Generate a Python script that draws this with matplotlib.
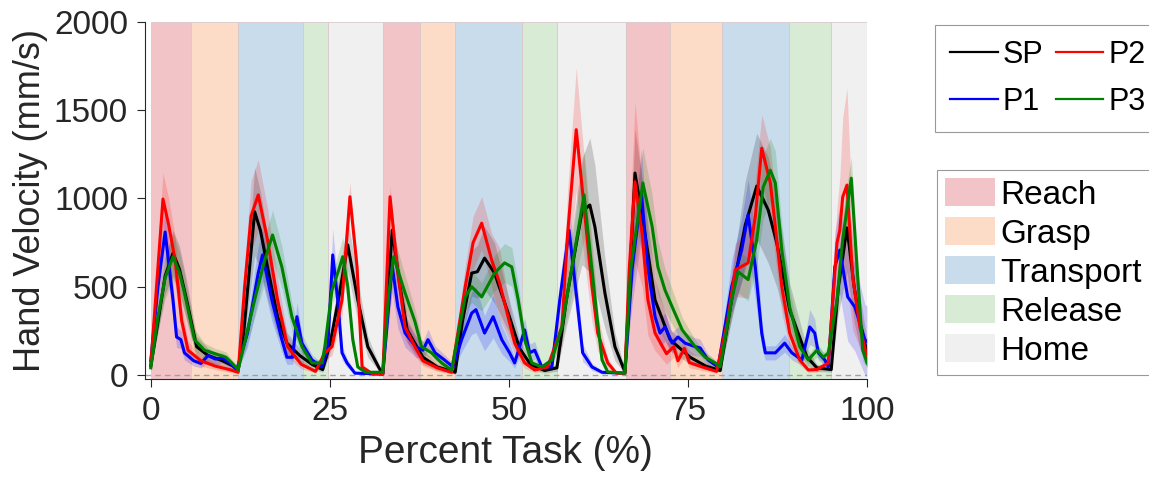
import matplotlib.pyplot as plt
from matplotlib.patches import Patch
from matplotlib.lines import Line2D
import numpy as np

plt.rcParams['font.family'] = ['Liberation Sans', 'DejaVu Sans']

# Task phases (percent task boundaries)
phase_names = ['Reach', 'Grasp', 'Transport', 'Release', 'Home']
phase_colors = ['#f3c4c7', '#fcdcc6', '#c8dcec', '#d8ecd5', '#f0f0f0']
phase_edges = [0, 5.6, 12.2, 21.2, 24.7, 32.4, 37.6, 42.5, 51.8, 56.7,
               66.3, 72.5, 79.7, 89.1, 95.0, 100]

# (percent task, mean velocity, std)
sp = [(0, 50, 20), (1, 300, 60), (2, 560, 100), (3.1, 690, 130), (4, 600, 130), (5, 425, 110),
      (6.4, 160, 60), (8, 110, 40), (10, 80, 30), (11.5, 50, 20), (12.2, 25, 10),
      (13, 250, 60), (14.5, 925, 250), (15.3, 820, 220), (16.3, 610, 180), (17.7, 330, 100),
      (19, 180, 60), (20.8, 110, 40), (22.5, 60, 25), (24, 30, 15),
      (25, 170, 50), (26.3, 450, 120), (27.5, 737, 150), (28.9, 425, 120), (30.3, 160, 60),
      (32, 30, 15), (32.4, 10, 5),
      (33.7, 820, 100), (34.8, 500, 90), (35.8, 255, 70), (38, 100, 40), (40, 45, 20), (42.5, 15, 10),
      (43.5, 300, 80), (44.8, 577, 130), (45.6, 585, 150), (46.6, 662, 180), (48, 577, 170),
      (49.9, 350, 100), (51.5, 150, 50), (53, 60, 25), (55, 25, 15), (56.7, 40, 20),
      (58, 420, 150), (60.2, 925, 300), (61.3, 963, 380), (62, 840, 350), (63.4, 465, 200),
      (64.8, 160, 80), (66.2, 17, 10),
      (67.6, 1144, 250), (69, 800, 200), (70.4, 425, 120), (72.5, 200, 60), (75.3, 100, 40),
      (77.5, 50, 20), (79.5, 25, 10),
      (81.6, 555, 150), (83, 850, 250), (84.6, 1070, 300), (86.2, 935, 300), (87.4, 748, 250),
      (89.2, 368, 150), (91.6, 102, 50), (93, 40, 20), (95, 30, 15),
      (96, 500, 150), (97.2, 833, 250), (98.2, 500, 200), (99, 300, 150), (100, 125, 80)]

p1 = [(0, 80, 30), (1, 500, 100), (2, 810, 150), (3.1, 425, 100), (3.6, 215, 60), (4.2, 200, 50),
      (4.7, 125, 40), (6, 80, 30), (7, 65, 25), (8, 110, 40), (9, 90, 30), (10, 95, 30),
      (11, 70, 25), (12, 30, 15),
      (13.5, 237, 80), (15, 577, 150), (15.6, 680, 150), (16.9, 425, 120), (18.3, 200, 70),
      (19, 100, 40), (19.8, 100, 40), (20.4, 330, 80), (21.1, 180, 50), (22.5, 85, 30),
      (23.9, 45, 20), (24.7, 150, 50),
      (25.4, 680, 150), (26.1, 425, 100), (26.7, 125, 40), (27.4, 68, 25), (28.5, 10, 5), (32.4, 5, 5),
      (33.7, 620, 150), (34.5, 385, 120), (35.5, 237, 80), (37, 160, 60), (38, 140, 50),
      (38.7, 200, 60), (39.7, 125, 40), (41, 85, 30), (42.2, 45, 20),
      (43.4, 200, 70), (44.8, 350, 120), (45.4, 370, 130), (46.6, 237, 100), (47.8, 330, 120),
      (49, 200, 80), (50.1, 125, 50), (50.8, 68, 30), (52.2, 255, 70), (52.9, 125, 50),
      (53.6, 140, 50), (54.6, 45, 20), (56, 45, 20),
      (57.1, 425, 100), (58.4, 820, 150), (59.5, 425, 120), (60.3, 125, 50), (61.6, 45, 20),
      (63, 15, 10), (66.2, 10, 5),
      (67.2, 600, 200), (68.5, 1030, 250), (69.4, 612, 180), (70.4, 330, 100), (71.1, 237, 80),
      (71.8, 272, 80), (72.8, 180, 60), (73.6, 215, 60), (74.6, 180, 60), (76, 160, 50),
      (76.7, 153, 50), (77.8, 85, 30), (79.2, 45, 20),
      (81.1, 500, 150), (82.5, 708, 180), (83.4, 907, 200), (84.4, 612, 180), (85.3, 237, 80),
      (85.8, 125, 40), (87.2, 125, 40), (88.5, 180, 50), (89.5, 125, 40), (90.9, 85, 30),
      (92, 272, 100), (92.7, 237, 80), (93.2, 125, 40), (94.1, 85, 30), (94.6, 45, 20),
      (95.5, 612, 200), (96.2, 708, 250), (97.3, 442, 250), (98.3, 385, 250), (99.7, 200, 200),
      (100, 190, 200)]

p2 = [(0, 60, 20), (0.8, 500, 100), (1.7, 997, 150), (2.5, 850, 150), (3.4, 650, 130), (4.3, 310, 80),
      (5.2, 140, 50), (7, 80, 30), (9, 50, 20), (11, 30, 15), (12.2, 15, 10),
      (13.1, 500, 120), (14, 900, 200), (15, 1020, 200), (16.3, 765, 180), (17.7, 425, 120),
      (19.1, 160, 60), (21, 60, 25), (23, 20, 10), (24.3, 125, 40), (25.3, 160, 50),
      (26.7, 425, 100), (27.8, 1010, 80), (28.8, 612, 70), (29.5, 45, 20), (31, 5, 5), (32.4, 5, 5),
      (33.4, 1010, 60), (34.4, 612, 80), (35.5, 272, 70), (37, 150, 50), (38, 80, 30), (40, 40, 20),
      (42, 15, 10),
      (43.9, 500, 120), (45, 750, 150), (46.2, 860, 150), (47.6, 650, 150), (48.7, 520, 200),
      (49.4, 408, 150), (50.8, 180, 60), (52.2, 68, 30), (53.6, 28, 15), (55.4, 45, 20),
      (57.4, 272, 100), (58.2, 800, 250), (59.4, 1390, 350), (60.3, 1030, 300), (61.6, 500, 200),
      (62.4, 237, 100), (63.8, 68, 30), (65, 10, 5), (66.2, 10, 5),
      (66.8, 600, 200), (67.6, 1095, 450), (68.6, 800, 300), (69.4, 425, 200), (70.4, 237, 100),
      (72, 120, 60), (73, 160, 60), (73.6, 80, 40), (74.5, 150, 50), (75.2, 70, 30), (77, 45, 20),
      (79, 20, 10),
      (80.5, 300, 100), (81.6, 595, 150), (83.4, 635, 200), (84.4, 897, 200), (85.3, 1285, 190),
      (86.5, 1088, 200), (87.2, 840, 180), (88.1, 500, 150), (89.2, 237, 80), (90.6, 85, 30),
      (91.8, 28, 15), (93, 30, 15), (94.6, 68, 30),
      (95.8, 748, 200), (96.2, 820, 300), (96.6, 1008, 450), (97.2, 1076, 550), (98, 555, 300),
      (99, 272, 120), (100, 100, 50)]

p3 = [(0, 40, 20), (1, 330, 80), (2, 550, 120), (3.1, 670, 130), (4, 580, 120), (4.7, 465, 110),
      (6.1, 200, 60), (7.5, 140, 40), (9, 120, 30), (10.5, 100, 30), (11.5, 60, 20), (12.2, 30, 10),
      (13.2, 200, 60), (14.5, 425, 100), (15.9, 650, 130), (17, 793, 140), (18.3, 612, 120),
      (19.7, 330, 80), (21.1, 160, 40), (22.5, 68, 20), (23.9, 68, 20),
      (24.3, 160, 40), (25.3, 480, 80), (26.1, 577, 100), (26.8, 670, 110), (27.5, 500, 90),
      (28.2, 200, 50), (28.9, 45, 15), (30, 15, 5), (32.4, 15, 5),
      (33.2, 450, 100), (33.9, 670, 120), (35.5, 465, 100), (36.9, 300, 70), (37.8, 160, 40),
      (39.2, 125, 30), (40.6, 68, 20), (42, 28, 10),
      (43.9, 442, 80), (44.8, 500, 90), (46.2, 442, 80), (48, 577, 100), (49.4, 635, 110),
      (50.4, 612, 110), (51.3, 425, 90), (52.2, 200, 50), (53.2, 68, 20), (54.6, 45, 15), (56, 85, 20),
      (57.4, 272, 80), (58.8, 612, 150), (60.5, 1020, 250), (61.3, 708, 200), (62.3, 330, 100),
      (63, 85, 30), (63.8, 17, 10), (66.2, 10, 5),
      (67, 600, 150), (68.7, 1088, 200), (70, 840, 180), (70.8, 612, 150), (71.8, 480, 120),
      (72.8, 385, 100), (74.2, 255, 70), (76, 160, 40), (77.4, 100, 30), (78.8, 68, 20), (79.5, 45, 15),
      (81.1, 425, 100), (82, 585, 120), (83.4, 540, 120), (84.6, 765, 150), (85.5, 1065, 180),
      (86.5, 1160, 180), (87.2, 1088, 180), (88.1, 708, 150), (89.2, 385, 100), (90.6, 160, 50),
      (91.8, 85, 25), (93, 140, 40), (93.9, 100, 30), (94.6, 125, 30),
      (95.8, 425, 100), (96.6, 765, 150), (97.8, 1115, 120), (98.6, 612, 120), (99.4, 140, 60),
      (100, 68, 30)]

series = [('SP', sp, 'black'), ('P1', p1, '#0000ff'), ('P2', p2, '#ff0000'), ('P3', p3, '#008000')]

fig = plt.figure(figsize=(11.49, 4.84), dpi=100)
ax = fig.add_axes([0.126, 0.217, 0.6286, 0.7375])

# Phase background
for k in range(len(phase_edges) - 1):
    ax.axvspan(phase_edges[k], phase_edges[k + 1], color=phase_colors[k % 5], lw=0.6,
               ec='#d9c9c9', zorder=0)

ax.axhline(0, color='#a0a0a0', ls=(0, (4, 3)), lw=1, zorder=1)

for name, data, col in series:
    x, m, s = np.array(data).T
    ax.fill_between(x, m - s, m + s, color=col, alpha=0.17, lw=0, zorder=2)
for name, data, col in series:
    x, m, s = np.array(data).T
    ax.plot(x, m, color=col, lw=2.2, zorder=3)

ax.set_xlim(-0.84, 100)
ax.set_ylim(-23, 2000)
ax.set_xticks([0, 25, 50, 75, 100])
ax.set_yticks([0, 500, 1000, 1500, 2000])
ax.tick_params(labelsize=24, colors='#262626', direction='out', length=6, width=0.8, pad=6)
for sp_name in ['top', 'right']:
    ax.spines[sp_name].set_visible(False)
for sp_name in ['left', 'bottom']:
    ax.spines[sp_name].set_color('#262626')
    ax.spines[sp_name].set_linewidth(0.8)
ax.set_xlabel('Percent Task (%)', fontsize=28, color='#262626', labelpad=6)
ax.set_ylabel('Hand Velocity (mm/s)', fontsize=26, color='#262626', labelpad=4)

# Legends
line_handles = [Line2D([], [], color=c, lw=1.6) for _, _, c in series]
leg1 = fig.legend(line_handles, [n for n, _, _ in series], ncol=2, loc='upper left',
                  bbox_to_anchor=(0.8137, 0.949), borderaxespad=0, fontsize=22, frameon=True,
                  fancybox=False, edgecolor='#808080', handlelength=1.55, handletextpad=0.16,
                  columnspacing=0.42, labelspacing=0.55, borderpad=0.5)
leg1.get_frame().set_linewidth(0.8)

patch_handles = [Patch(facecolor=c, edgecolor='none') for c in phase_colors]
leg2 = fig.legend(patch_handles, phase_names, loc='upper left', bbox_to_anchor=(0.8155, 0.649),
                  borderaxespad=0, fontsize=24, frameon=True, fancybox=False, edgecolor='#808080',
                  handlelength=1.5, handleheight=0.9, handletextpad=0.15, labelspacing=0.2,
                  borderpad=0.25)
leg2.get_frame().set_linewidth(0.8)

fig.savefig('out.png', dpi=100)
